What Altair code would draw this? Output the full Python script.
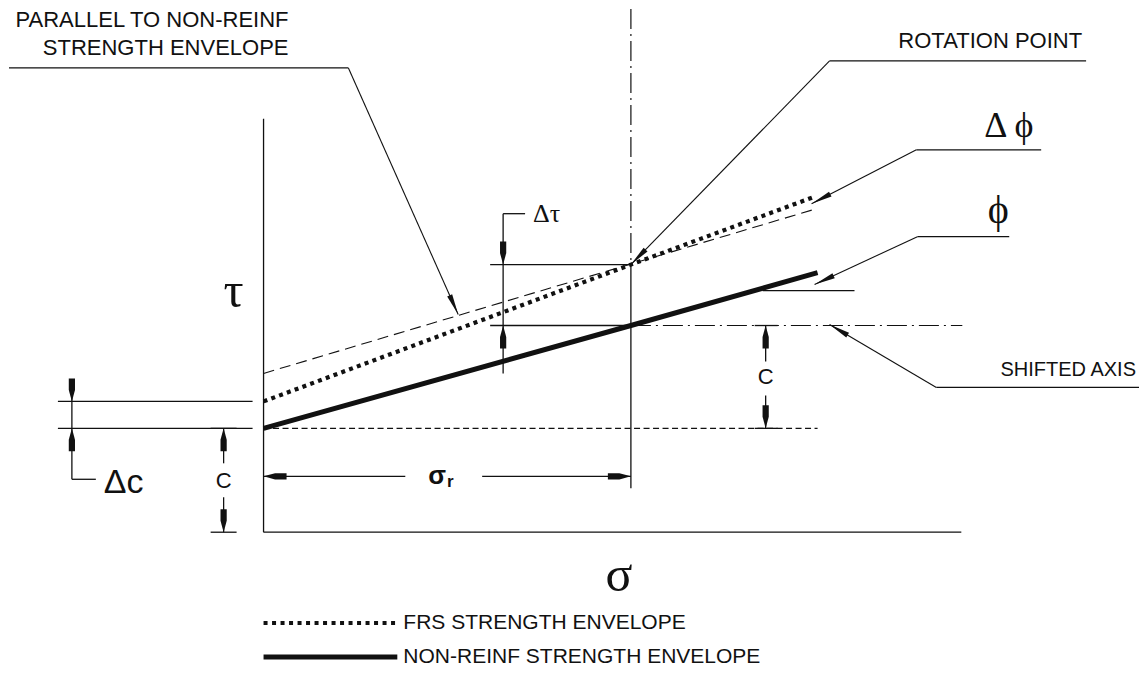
import math
import altair as alt
import pandas as pd

# ---------------- data: drawing units (sigma, tau), origin at axes intersection ----
# strength envelopes
nonreinf_sigma = [0, 368, 555]
nonreinf_tau = [104, 207, 260]
frs_sigma = [0, 368, 552]
frs_tau = [131, 268, 336]
parallel_sigma = [0, 554]
parallel_tau = [159, 324]
cohesion_sigma = [0, 555]
cohesion_tau = [104, 104]

# legend samples
legend_sigma = [0, 134]
legend_tau = [-91, -125]
legend_labels = ["FRS STRENGTH ENVELOPE", "NON-REINF STRENGTH ENVELOPE"]
legend_text_sigma = 140

# thin construction / dimension lines: (s1, t1, s2, t2)
thin_lines = [
    (0, 0, 0, 414),          # tau axis
    (0, 0, 699, 0),          # sigma axis
    (368, 268, 368, 44),     # line through rotation point
    (227, 268, 368, 268),    # delta-tau extension lines
    (227, 207, 368, 207),
    (240, 319, 240, 159),    # delta-tau dimension line
    (240, 319, 262, 319),
    (-206, 131, -11, 131),   # delta-c extension lines
    (-206, 104, -11, 104),
    (-192, 152, -192, 53),   # delta-c dimension line
    (-192, 53, -168, 53),
    (-53, 104, -27, 104),    # c (left) ticks and dimension
    (-53, 0, -27, 0),
    (-40, 104, -40, 69),
    (-40, 35, -40, 0),
    (492, 207, 515, 207),    # c (right) ticks and dimension
    (492, 104, 515, 104),
    (503, 207, 503, 171),
    (503, 137, 503, 104),
    (0, 56, 142, 56),        # sigma_r dimension
    (219, 56, 368, 56),
    (500, 242, 592, 242),    # phi reference line
    (-255, 465, 85, 465),    # label underlines
    (567, 472, 824, 472),
    (654, 383, 779, 383),
    (655, 296, 747, 296),
    (674, 145, 877, 145),
]
# leader lines ending in an arrow tip: (from_s, from_t, tip_s, tip_t)
leaders = [
    (85, 465, 195, 218),     # parallel to non-reinf envelope
    (567, 472, 368, 268),    # rotation point
    (654, 383, 549, 329),    # delta phi
    (655, 296, 552, 248),    # phi
    (674, 145, 567, 208),    # shifted axis
]
dashdot_lines = [(368, 524, 368, 268), (368, 207, 700, 207)]

# dimension arrow tips: (s, t, direction)
dim_arrows = [
    (240, 268, "down"), (240, 207, "up"),
    (-192, 131, "down"), (-192, 104, "up"),
    (-40, 104, "up"), (-40, 0, "down"),
    (503, 207, "up"), (503, 104, "down"),
    (0, 56, "left"), (368, 56, "right"),
]

callouts = [("PARALLEL TO NON-REINF", 25, 513), ("STRENGTH ENVELOPE", 25, 484.5),
            ("ROTATION POINT", 820, 491.5)]
shifted_label = [("SHIFTED AXIS", 874, 162)]
greek_big = [("τ", -30, 241), ("σ", 356, -44)]
delta_phi_label = [("Δ ϕ", 722, 407)]
phi_label = [("ϕ", 736, 322)]
delta_tau_label = [("Δτ", 270, 319)]
delta_c_label = [("Δc", -160, 49)]
c_labels = [("C", -40, 51), ("C", 503, 155)]
sigma_r_main = [("σ", 174, 56)]
sigma_r_sub = [("r", 187, 50)]

# ---------------- chart ----------------
INK = "#111111"
xs = alt.Scale(domain=[-255, 877], nice=False, zero=False)
ys = alt.Scale(domain=[-136, 524], nice=False, zero=False)


def seg_df(rows):
    return pd.DataFrame(rows, columns=["s1", "t1", "s2", "t2"])


def rules(rows, **mk):
    return alt.Chart(seg_df(rows)).mark_rule(color=INK, **mk).encode(
        x=alt.X("s1:Q", scale=xs, axis=None),
        y=alt.Y("t1:Q", scale=ys, axis=None),
        x2="s2:Q", y2="t2:Q")


def poly(sig, tau, **mk):
    df = pd.DataFrame({"s": sig, "t": tau, "o": range(len(sig))})
    return alt.Chart(df).mark_line(color=INK, **mk).encode(
        x=alt.X("s:Q", scale=xs, axis=None),
        y=alt.Y("t:Q", scale=ys, axis=None),
        order="o:Q")


def texts(rows, **mk):
    df = pd.DataFrame(rows, columns=["label", "s", "t"])
    return alt.Chart(df).mark_text(color=INK, baseline="middle", **mk).encode(
        x=alt.X("s:Q", scale=xs, axis=None),
        y=alt.Y("t:Q", scale=ys, axis=None),
        text="label:N")


dir_angle = {"up": 0, "right": 90, "down": 180, "left": 270}
arrow_rows = [{"s": s, "t": t, "a": dir_angle[d], "k": "dim"} for s, t, d in dim_arrows]
for s0, t0, s1, t1 in leaders:
    ang = math.degrees(math.atan2(s1 - s0, t1 - t0)) % 360
    arrow_rows.append({"s": s1, "t": t1, "a": ang, "k": "lead"})
arrows_df = pd.DataFrame(arrow_rows)

dim_shape = "M0,0 L0.27,1.0 L0.27,2 L-0.27,2 L-0.27,1.0 Z"
lead_shape = "M0,0 L0.26,2 L-0.26,2 Z"


def arrows(kind, shape, size):
    return alt.Chart(arrows_df[arrows_df.k == kind]).mark_point(
        shape=shape, filled=True, size=size, color=INK, opacity=1, strokeWidth=0
    ).encode(
        x=alt.X("s:Q", scale=xs, axis=None),
        y=alt.Y("t:Q", scale=ys, axis=None),
        angle=alt.Angle("a:Q", scale=None))


layers = [
    rules(thin_lines, strokeWidth=1.3),
    rules(leaders, strokeWidth=1.1),
    rules(dashdot_lines, strokeWidth=1.2, strokeDash=[20, 5, 2, 5]),
    poly(cohesion_sigma, cohesion_tau, strokeWidth=1.2, strokeDash=[6, 3.5]),
    poly(parallel_sigma, parallel_tau, strokeWidth=1.1, strokeDash=[11, 6]),
    poly(nonreinf_sigma, nonreinf_tau, strokeWidth=5, strokeCap="butt"),
    poly(frs_sigma, frs_tau, strokeWidth=4.2, strokeDash=[4, 4.3], strokeCap="butt"),
    rules([(legend_sigma[0], legend_tau[0], legend_sigma[1], legend_tau[0])],
          strokeWidth=4, strokeDash=[4, 4.5], strokeCap="butt"),
    rules([(legend_sigma[0], legend_tau[1], legend_sigma[1], legend_tau[1])],
          strokeWidth=5, strokeCap="butt"),
    arrows("dim", dim_shape, 529),
    arrows("lead", lead_shape, 441),
    texts(callouts, align="right", font="Liberation Sans", fontSize=22),
    texts(shifted_label, align="right", font="Liberation Sans", fontSize=20),
    texts([(lab, legend_text_sigma, t) for lab, t in zip(legend_labels, legend_tau)],
          align="left", font="Liberation Sans", fontSize=21),
    texts(greek_big, align="center", font="Liberation Serif", fontSize=50),
    texts(delta_phi_label, align="left", font="Liberation Serif", fontSize=36),
    texts(phi_label, align="center", font="Liberation Serif", fontSize=40),
    texts(delta_tau_label, align="left", font="Liberation Serif", fontSize=26),
    texts(delta_c_label, align="left", font="Liberation Sans", fontSize=34),
    texts(c_labels, align="center", font="Liberation Sans", fontSize=22),
    texts(sigma_r_main, align="center", font="Liberation Sans", fontSize=26, fontWeight="bold"),
    texts(sigma_r_sub, align="center", font="Liberation Sans", fontSize=17, fontWeight="bold"),
]

chart = alt.layer(*layers).properties(
    width=1132, height=660,
    autosize=alt.AutoSizeParams(type="fit", contains="padding"),
    padding=0, background="white",
).configure_view(stroke=None)

chart.save("out.html", embed_options={"renderer": "svg", "actions": False})
